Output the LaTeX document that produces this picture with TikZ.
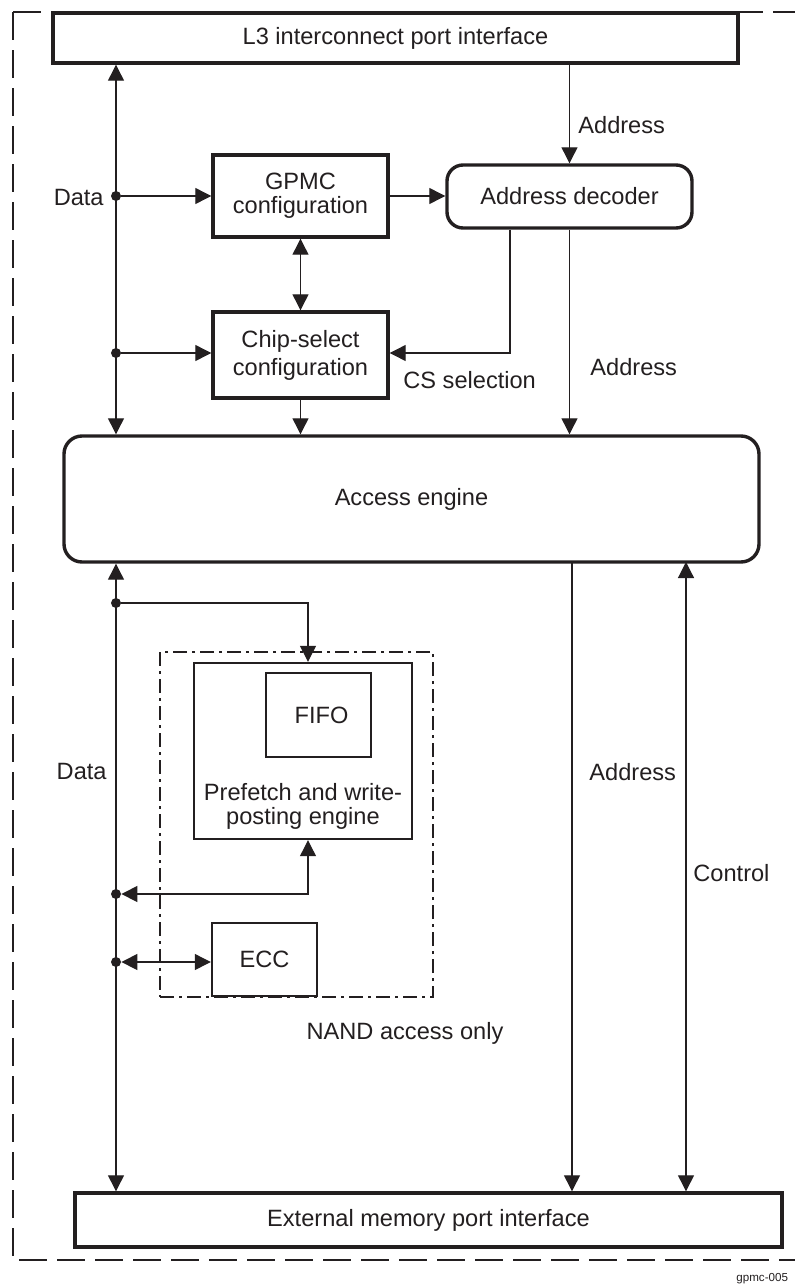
\documentclass[tikz,border=0pt]{standalone}
\usepackage{fontspec}
\setmainfont{Liberation Sans}
\usetikzlibrary{arrows.meta}
\definecolor{ink}{HTML}{231F20}

\begin{document}
\begin{tikzpicture}[
  x=0.5pt, y=-0.5pt,
  every node/.style={inner sep=1pt, text=ink, font=\fontsize{11.8}{12}\selectfont},
  blk/.style={draw=ink, line width=1.7pt, fill=white, align=center},
  rblk/.style={blk, rounded corners=8pt},
  sub/.style={draw=ink, line width=1.2pt, fill=white, align=center},
  dot/.style={circle, fill=ink, minimum size=5pt, inner sep=0pt},
  outer/.style={draw=ink, line width=1.3pt, dash pattern=on 14pt off 5pt},
  nand/.style={draw=ink, line width=1.2pt, dash pattern=on 7pt off 2.5pt on 1.5pt off 2.5pt},
  % connectors: thin lines with solid triangular heads
  wire/.style={draw=ink, line width=0.6pt},
  arrow/.style={wire, -{Triangle[length=8pt,width=8pt]}},
  biarrow/.style={wire, {Triangle[length=8pt,width=8pt]}-{Triangle[length=8pt,width=8pt]}}]

  \useasboundingbox (0,0) rectangle (795,1285);

  % frame of the whole controller and of the NAND part
  \draw[outer] (13,12) -- (13,1260) -- (840,1260);
  \draw[outer] (13,12) -- (840,12);
  \node[nand, minimum width=136.5pt, minimum height=172.5pt] (nandbox) at (296.5,824.5) {};

  % vertices
  \node[blk, minimum width=342.5pt, minimum height=25pt] (l3) at (395.5,38) {L3 interconnect port interface};
  \node[blk, minimum width=87.5pt, minimum height=41pt] (gpmc) at (300.5,196) {GPMC\\configuration};
  \node[rblk, minimum width=122.5pt, minimum height=31.5pt] (dec) at (569.5,196.5) {Address decoder};
  \node[blk, minimum width=87.5pt, minimum height=43pt, font=\fontsize{11.8}{14}\selectfont] (csc) at (300.5,355) {Chip-select\\configuration};
  \node[rblk, rounded corners=9pt, minimum width=347.5pt, minimum height=63pt] (acc) at (411.5,499) {Access engine};
  \node[sub, minimum width=109pt, minimum height=88pt] (pref) at (303,751) {};
  \node[sub, minimum width=52.5pt, minimum height=42pt] (fifo) at (318.5,715) {\hspace{3pt}FIFO};
  \node[align=center] (preflbl) at (303,806) {Prefetch and write-\\posting engine};
  \node[sub, minimum width=52.5pt, minimum height=36.5pt] (ecc) at (264.5,959.5) {ECC};
  \node[blk, minimum width=353.5pt, minimum height=27pt] (ext) at (428.5,1220) {External memory port interface};

  % junction dots on the data bus
  \node[dot] (d1) at (116,196) {};
  \node[dot] (d2) at (116,353) {};
  \node[dot] (d3) at (116,603) {};
  \node[dot] (d4) at (116,894) {};
  \node[dot] (d5) at (116,962) {};
  \coordinate (cs) at (510,353);
  \coordinate (pt) at (308,603);
  \coordinate (pb) at (308,894);
  \coordinate (addr) at (572,562);
  \coordinate (ctl) at (686,562);

  % arrows
  \draw[biarrow] (l3.south -| d1) -- (acc.north -| d1);
  \draw[arrow]   (d1) -- (gpmc.west);
  \draw[arrow]   (d2) -- (csc.west |- d2);
  \draw[arrow]   (gpmc.east) -- (gpmc.east -| dec.west);
  \draw[arrow]   (dec.north |- l3.south) -- (dec.north);
  \draw[biarrow] (gpmc.south) -- (csc.north);
  \draw[arrow]   (dec.south -| cs) -- (cs) -- (cs -| csc.east);
  \draw[arrow]   (dec.south) -- (dec.south |- acc.north);
  \draw[arrow]   (csc.south) -- (csc.south |- acc.north);
  \draw[biarrow] (acc.south -| d3) -- (ext.north -| d3);
  \draw[arrow]   (d3) -- (pt) -- (pt |- pref.north);
  \draw[biarrow] (d4) -- (pb) -- (pb |- pref.south);
  \draw[biarrow] (d5) -- (ecc.west |- d5);
  \draw[arrow]   (addr) -- (addr |- ext.north);
  \draw[biarrow] (ctl) -- (ctl |- ext.north);

  % labels printed inside the picture
  \node[anchor=west] at (576,125) {Address};
  \node[anchor=east] at (106,197) {Data};
  \node[anchor=west] at (401,380) {CS selection};
  \node[anchor=west] at (588,367) {Address};
  \node[anchor=east] at (109,771) {Data};
  \node[anchor=west] at (587,772) {Address};
  \node[anchor=west] at (691,873) {Control};
  \node at (405,1033) {NAND access only};
  \node[anchor=west, font=\fontsize{5.8}{6}\selectfont] at (734,1279) {gpmc-005};
\end{tikzpicture}
\end{document}
